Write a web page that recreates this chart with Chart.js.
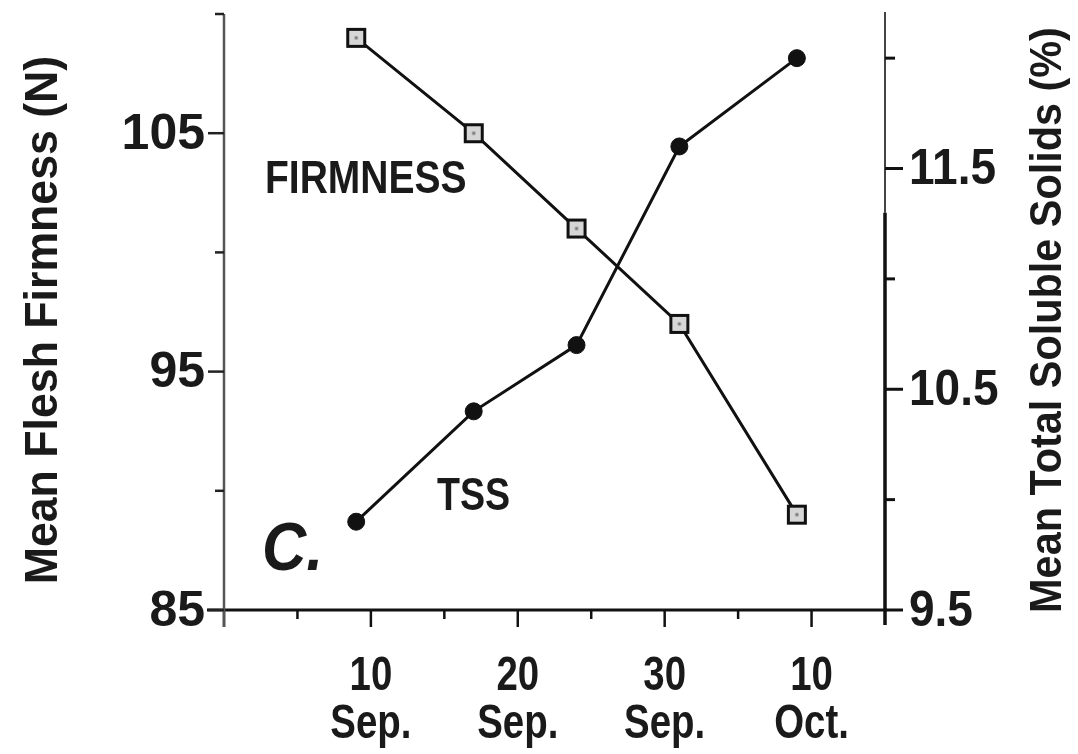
<!DOCTYPE html>
<html>
<head>
<meta charset="utf-8">
<script src="https://cdn.jsdelivr.net/npm/chart.js@4.4.1/dist/chart.umd.min.js"></script>
<style>
html,body{margin:0;padding:0;background:#fff;}
#wrap{width:1078px;height:754px;}
</style>
</head>
<body>
<div id="wrap"><canvas id="c" width="1078" height="754"></canvas></div>
<script>
// ---- data (days counted from 31 Aug) ----
const sampleDays = [9, 17, 24, 31, 39];
const firmnessN = [109, 105, 101, 97, 89];
const tssPercent = [9.9, 10.4, 10.7, 11.6, 12.0];
const xTickDays = [10, 20, 30, 40];
const xTickDayLabels = ['10', '20', '30', '10'];
const xTickMonthLabels = ['Sep.', 'Sep.', 'Sep.', 'Oct.'];
const leftTickValues = [85, 95, 105];
const rightTickValues = [9.5, 10.5, 11.5];
const leftTitle = 'Mean Flesh Firmness (N)';
const rightTitle = 'Mean Total Soluble Solids (%)';

const SANS = '"Liberation Sans", Arial, Helvetica, sans-serif';

// draw horizontally condensed text (still real text)
function condText(ctx, text, x, y, sx, align) {
  ctx.save();
  ctx.translate(x, y);
  ctx.scale(sx, 1);
  ctx.textAlign = align || 'left';
  ctx.fillText(text, 0, 0);
  ctx.restore();
}

// square marker with a small centre dot
function makeSquare() {
  const c = document.createElement('canvas');
  c.width = 22; c.height = 22;
  const g = c.getContext('2d');
  g.fillStyle = '#d6d6d6';
  g.fillRect(2, 2, 18, 18);
  g.strokeStyle = '#111';
  g.lineWidth = 3;
  g.strokeRect(2.5, 2.5, 17, 17);
  g.fillStyle = '#777';
  g.fillRect(9.5, 9.5, 3, 3);
  return c;
}

const axesPlugin = {
  id: 'customAxes',
  beforeDatasetsDraw(chart) {
    const { ctx, chartArea: a, scales } = chart;
    const x = scales.x, yL = scales.yL, yR = scales.yR;
    ctx.save();
    ctx.lineCap = 'butt';
    // bottom axis
    ctx.strokeStyle = '#111';
    ctx.lineWidth = 3;
    ctx.beginPath();
    ctx.moveTo(a.left - 17, a.bottom);
    ctx.lineTo(a.right + 2, a.bottom);
    ctx.stroke();
    // x ticks
    for (let d = 0; d < 45; d += 5) {
      const px = x.getPixelForValue(d);
      const len = d % 10 === 0 ? 17 : 9;
      ctx.lineWidth = 2.5;
      ctx.beginPath();
      ctx.moveTo(px, a.bottom);
      ctx.lineTo(px, a.bottom + len);
      ctx.stroke();
    }
    // left axis
    ctx.strokeStyle = '#555';
    ctx.lineWidth = 2.5;
    ctx.beginPath();
    ctx.moveTo(a.left, a.top);
    ctx.lineTo(a.left, a.bottom + 17);
    ctx.stroke();
    for (let v = 85; v <= 110; v += 5) {
      const py = yL.getPixelForValue(v);
      const len = leftTickValues.includes(v) ? 16 : 9;
      ctx.strokeStyle = '#222';
      ctx.lineWidth = 2.5;
      ctx.beginPath();
      ctx.moveTo(a.left, py);
      ctx.lineTo(a.left - len, py);
      ctx.stroke();
    }
    // right axis (thin upper part, heavy lower part)
    const brk = yR.getPixelForValue(11.3);
    ctx.strokeStyle = '#444';
    ctx.lineWidth = 2;
    ctx.beginPath();
    ctx.moveTo(a.right, a.top - 2);
    ctx.lineTo(a.right, brk);
    ctx.stroke();
    ctx.strokeStyle = '#111';
    ctx.lineWidth = 3.5;
    ctx.beginPath();
    ctx.moveTo(a.right, brk);
    ctx.lineTo(a.right, a.bottom + 15);
    ctx.stroke();
    for (let i = 0; i <= 5; i++) {
      const v = 9.5 + i * 0.5;
      const py = yR.getPixelForValue(v);
      const len = i % 2 === 0 ? 18 : 10;
      ctx.lineWidth = 3;
      ctx.strokeStyle = '#111';
      ctx.beginPath();
      ctx.moveTo(a.right, py);
      ctx.lineTo(a.right + len, py);
      ctx.stroke();
    }
    ctx.restore();
  },
  afterDraw(chart) {
    const { ctx, chartArea: a, scales } = chart;
    const x = scales.x, yL = scales.yL, yR = scales.yR;
    ctx.save();
    ctx.fillStyle = '#1a1a1a';
    // left tick labels
    ctx.font = 'bold 50px ' + SANS;
    ctx.textBaseline = 'middle';
    leftTickValues.forEach(v => condText(ctx, String(v), a.left - 19, yL.getPixelForValue(v) + 2, 1.0, 'right'));
    // right tick labels
    rightTickValues.forEach(v => condText(ctx, v.toFixed(1), a.right + 24, yR.getPixelForValue(v) + 2, 0.92, 'left'));
    // x tick labels
    ctx.font = 'bold 48px ' + SANS;
    ctx.textBaseline = 'alphabetic';
    xTickDays.forEach((d, i) => {
      const px = x.getPixelForValue(d);
      condText(ctx, xTickDayLabels[i], px, 690, 0.8, 'center');
      condText(ctx, xTickMonthLabels[i], px, 738, 0.8, 'center');
    });
    // axis titles (both read bottom-to-top)
    ctx.textBaseline = 'middle';
    ctx.font = 'bold 47px ' + SANS;
    ctx.save();
    ctx.translate(44, 320);
    ctx.rotate(-Math.PI / 2);
    condText(ctx, leftTitle, 0, 0, 0.95, 'center');
    ctx.restore();
    ctx.font = 'bold 45px ' + SANS;
    ctx.save();
    ctx.translate(1049, 320);
    ctx.rotate(-Math.PI / 2);
    condText(ctx, rightTitle, 0, 0, 0.92, 'center');
    ctx.restore();
    // in-plot labels
    ctx.textBaseline = 'alphabetic';
    ctx.font = 'bold 47px ' + SANS;
    condText(ctx, 'FIRMNESS', 265, 193, 0.83, 'left');
    ctx.font = 'bold 47px ' + SANS;
    condText(ctx, 'TSS', 437, 510, 0.8, 'left');
    ctx.font = 'italic bold 68px ' + SANS;
    condText(ctx, 'C.', 262, 570, 0.9, 'left');
    ctx.restore();
  }
};

const squareImg = makeSquare();

new Chart(document.getElementById('c'), {
  type: 'scatter',
  data: {
    datasets: [
      {
        label: 'FIRMNESS',
        data: sampleDays.map((d, i) => ({ x: d, y: firmnessN[i] })),
        yAxisID: 'yL',
        showLine: true,
        borderColor: '#111',
        borderWidth: 3,
        pointStyle: squareImg,
        pointRadius: 11,
        clip: false
      },
      {
        label: 'TSS',
        data: sampleDays.map((d, i) => ({ x: d, y: tssPercent[i] })),
        yAxisID: 'yR',
        showLine: true,
        borderColor: '#111',
        borderWidth: 3,
        pointStyle: 'circle',
        pointRadius: 8.5,
        pointBackgroundColor: '#111',
        pointBorderColor: '#111',
        pointBorderWidth: 1,
        clip: false
      }
    ]
  },
  options: {
    responsive: false,
    animation: false,
    devicePixelRatio: 1,
    layout: { padding: { left: 224, right: 193, top: 12, bottom: 144 } },
    plugins: { legend: { display: false }, tooltip: { enabled: false } },
    scales: {
      x: { type: 'linear', min: 0, max: 45, display: false },
      yL: { type: 'linear', position: 'left', min: 85, max: 110, display: false },
      yR: { type: 'linear', position: 'right', min: 9.5, max: 12.2, display: false }
    }
  },
  plugins: [axesPlugin]
});
</script>
</body>
</html>
